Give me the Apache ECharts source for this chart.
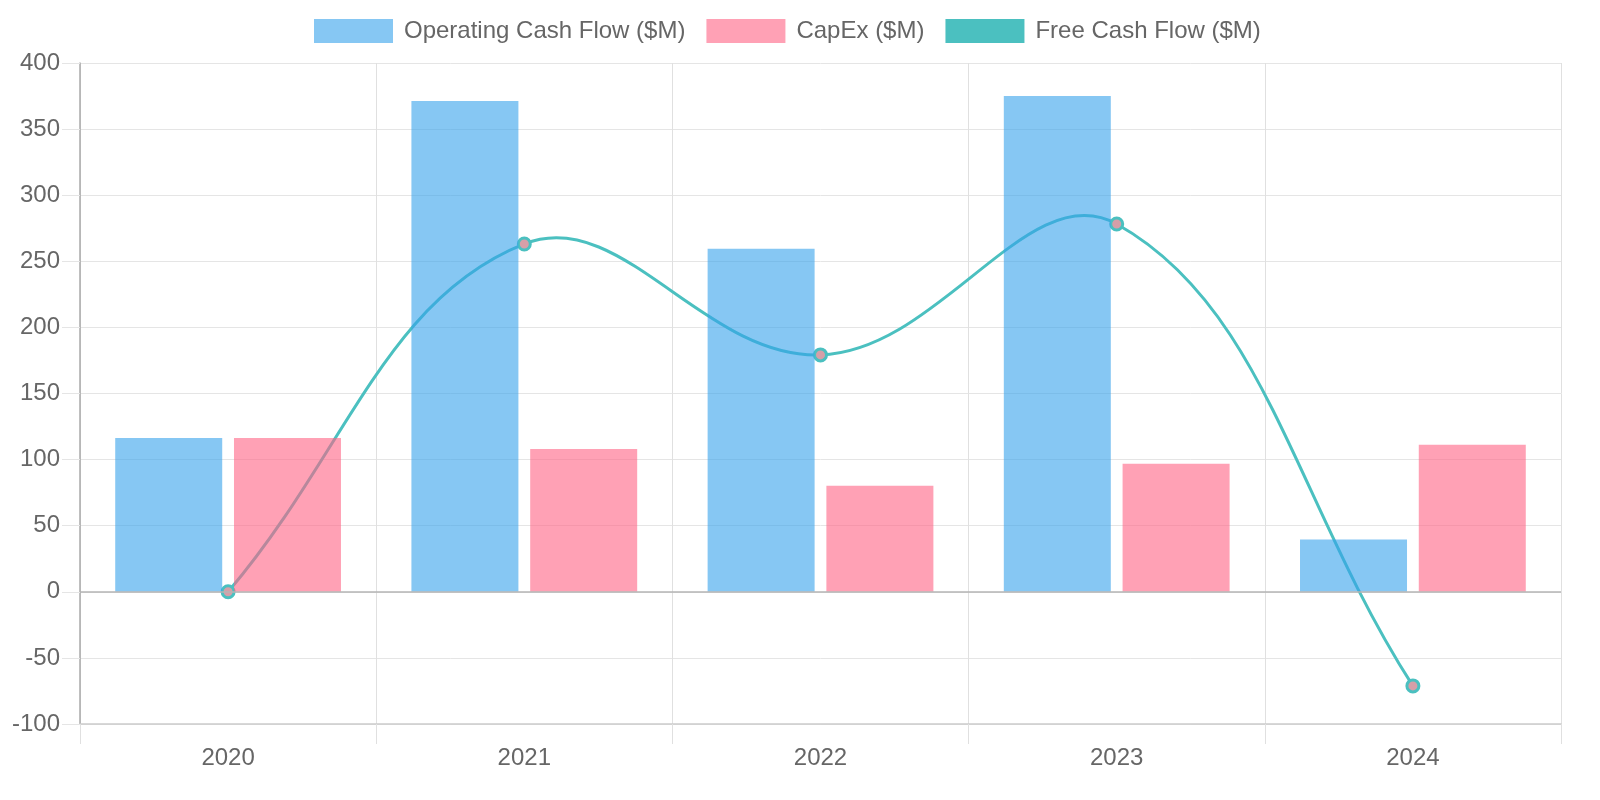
<!DOCTYPE html>
<html><head><meta charset="utf-8">
<script src="https://cdn.jsdelivr.net/npm/echarts@6/dist/echarts.min.js"></script>
<style>html,body{margin:0;padding:0;background:#fff}#c{width:1600px;height:800px}</style>
</head><body><div id="c"></div>
<script>
var years = ['2020','2021','2022','2023','2024'];
var operatingCashFlow = [116.4, 371.2, 259.4, 375.0, 39.5];
var capex = [116.4, 108.1, 80.2, 96.8, 111.2];
var freeCashFlow = [0, 263.1, 179.2, 278.2, -71.2];
var yTicks = {min: -100, max: 400, interval: 50};
var tension = 0.4;

var chart = echarts.init(document.getElementById('c'));
var font = 'Liberation Sans, Arial, sans-serif';
var fcfPairs = freeCashFlow.map(function (v, i) { return [i, v]; });

function renderSpline(params, api) {
  var i = params.dataIndex;
  if (i >= freeCashFlow.length - 1) return null;
  var pts = freeCashFlow.map(function (v, k) { return api.coord([k, v]); });
  function cps(k) {
    var prev = pts[Math.max(k - 1, 0)], cur = pts[k], next = pts[Math.min(k + 1, pts.length - 1)];
    var d01 = Math.hypot(cur[0] - prev[0], cur[1] - prev[1]);
    var d12 = Math.hypot(next[0] - cur[0], next[1] - cur[1]);
    var s01 = d01 / (d01 + d12), s12 = d12 / (d01 + d12);
    if (isNaN(s01)) s01 = 0; if (isNaN(s12)) s12 = 0;
    var fa = tension * s01, fb = tension * s12;
    return {
      prev: [cur[0] - fa * (next[0] - prev[0]), cur[1] - fa * (next[1] - prev[1])],
      next: [cur[0] + fb * (next[0] - prev[0]), cur[1] + fb * (next[1] - prev[1])]
    };
  }
  var a = pts[i], b = pts[i + 1];
  var c1 = cps(i).next, c2 = cps(i + 1).prev;
  return {
    type: 'bezierCurve',
    shape: {x1: a[0], y1: a[1], x2: b[0], y2: b[1], cpx1: c1[0], cpy1: c1[1], cpx2: c2[0], cpy2: c2[1]},
    style: {stroke: '#4bc0c0', lineWidth: 3, fill: null}
  };
}

chart.setOption({
  animation: false,
  textStyle: {fontFamily: font},
  legend: {
    top: 14, left: 309, itemGap: 21, itemWidth: 79, itemHeight: 24,
    textStyle: {fontSize: 24, color: '#666', fontFamily: font, padding: [0,0,0,6]},
    data: [
      {name: 'Operating Cash Flow ($M)', icon: 'rect'},
      {name: 'CapEx ($M)', icon: 'rect'},
      {name: 'Free Cash Flow ($M)', icon: 'rect', itemStyle: {color: '#4bc0c0', borderColor: '#4bc0c0', borderWidth: 0}}
    ]
  },
  grid: {left: 80, right: 39, top: 63, bottom: 76, containLabel: false},
  xAxis: {
    type: 'category', data: years, boundaryGap: true,
    axisLine: {onZero: false, lineStyle: {color: '#cccccc', width: 1.5}},
    axisTick: {show: true, length: 20, lineStyle: {color: '#e0e0e0'}},
    axisLabel: {fontSize: 24, color: '#666', margin: 22, fontFamily: font},
    splitLine: {show: true, lineStyle: {color: '#e0e0e0', width: 1}}
  },
  yAxis: {
    type: 'value', min: yTicks.min, max: yTicks.max, interval: yTicks.interval,
    axisLine: {show: true, lineStyle: {color: '#aaaaaa', width: 1.5}},
    axisTick: {show: true, length: 18, lineStyle: {color: '#e5e5e5'}},
    axisLabel: {fontSize: 24, color: '#666', margin: 20, fontFamily: font},
    splitLine: {show: true, lineStyle: {color: '#e5e5e5', width: 1}}
  },
  series: [
    {
      name: 'Free Cash Flow ($M)', type: 'custom', data: fcfPairs, z: 1,
      encode: {x: 0, y: 1}, renderItem: renderSpline, silent: true
    },
    {
      name: 'Free Cash Flow ($M)', type: 'line', data: freeCashFlow, z: 2,
      lineStyle: {width: 0, opacity: 0},
      itemStyle: {color: '#d69fa8', borderColor: '#4bc0c0', borderWidth: 3},
      symbol: 'circle', symbolSize: 12, showSymbol: true
    },
    {
      name: 'Operating Cash Flow ($M)', type: 'bar', data: operatingCashFlow, z: 3,
      barWidth: 107, barGap: '11%',
      itemStyle: {color: 'rgba(54,162,235,0.6)'},
      markLine: {
        silent: true, symbol: 'none', label: {show: false},
        lineStyle: {color: '#b5b5b5', width: 1.5, type: 'solid'},
        data: [{yAxis: 0}]
      }
    },
    {
      name: 'CapEx ($M)', type: 'bar', data: capex, z: 3,
      barWidth: 107, barGap: '11%',
      itemStyle: {color: 'rgba(255,99,132,0.6)'}
    }
  ]
});
</script></body></html>
